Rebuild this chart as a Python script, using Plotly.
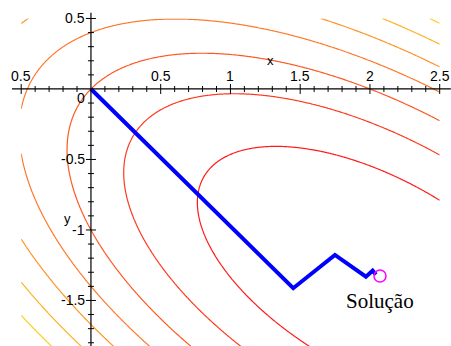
import numpy as np
import plotly.graph_objects as go

# Objective f(x, y) = a*x^2 + b*x*y + c*y^2 + d*x + e*y
f_coeffs = [1.0, 1.6, 2.0, -2.0, 2.0]
grid_x = [-0.5, 2.5]
grid_y = [-2.0, 0.5]
level_start, level_end, level_step = -2.24, 4.48, 1.12

# steepest-descent iterates starting at the origin
path_x = [0.0, 1.450, 1.749, 1.971, 2.019, 2.043]
path_y = [0.0, -1.413, -1.177, -1.331, -1.289, -1.317]
solution = [2.072, -1.326]

# axes drawn through the origin
x_range = [-0.652, 2.581]
y_range = [-1.823, 0.631]
x_axis_span = [-0.566, 2.58]
y_axis_span = [-1.823, 0.54]
x_tick_vals = [-0.5, 0.5, 1.0, 1.5, 2.0, 2.5]
x_tick_text = ["0.5", "0.5", "1", "1.5", "2", "2.5"]
y_tick_vals = [0.5, -0.5, -1.0, -1.5]
y_tick_text = ["0.5", "-0.5", "-1", "-1.5"]
x_minor = [-0.5, 2.5]
y_minor = [-1.8, 0.5]

W, H = 451, 346
sx = W / (x_range[1] - x_range[0])
sy = H / (y_range[1] - y_range[0])

a, b, c, d, e = f_coeffs
gx = np.linspace(grid_x[0], grid_x[1], 301)
gy = np.linspace(grid_y[0], grid_y[1], 251)
X, Y = np.meshgrid(gx, gy)
Z = a * X**2 + b * X * Y + c * Y**2 + d * X + e * Y

fig = go.Figure()

fig.add_trace(go.Contour(
    x=gx, y=gy, z=Z,
    contours=dict(start=level_start, end=level_end, size=level_step, coloring="lines"),
    colorscale=[[0, "rgb(255,25,25)"], [0.5, "rgb(255,120,40)"], [1, "rgb(255,205,30)"]],
    zmin=level_start, zmax=level_end,
    line=dict(width=1.2, smoothing=0.6),
    showscale=False, hoverinfo="skip",
))

# axis lines
fig.add_shape(type="line", x0=x_axis_span[0], x1=x_axis_span[1], y0=0, y1=0,
              line=dict(color="black", width=1.2))
fig.add_shape(type="line", x0=0, x1=0, y0=y_axis_span[0], y1=y_axis_span[1],
              line=dict(color="black", width=1.2))

# tick marks crossing the axes
def is_major(v):
    return abs(v * 2 - round(v * 2)) < 1e-9

tx, ty = [], []
for v in np.round(np.arange(round(x_minor[0] * 10), round(x_minor[1] * 10) + 1) / 10, 1):
    if v == 0:
        continue
    h = (5 if is_major(v) else 3) / sy
    tx += [v, v, None]
    ty += [-h, h, None]
for v in np.round(np.arange(round(y_minor[0] * 10), round(y_minor[1] * 10) + 1) / 10, 1):
    if v == 0:
        continue
    h = (5 if is_major(v) else 3) / sx
    tx += [-h, h, None]
    ty += [v, v, None]
fig.add_trace(go.Scatter(x=tx, y=ty, mode="lines", line=dict(color="black", width=1),
                         hoverinfo="skip", showlegend=False))

# descent path and solution marker
fig.add_trace(go.Scatter(x=path_x, y=path_y, mode="lines",
                         line=dict(color="#0000ff", width=4), showlegend=False))
fig.add_trace(go.Scatter(x=[solution[0]], y=[solution[1]], mode="markers",
                         marker=dict(symbol="circle-open", size=12, color="#ff00ff",
                                     line=dict(width=1.5, color="#ff00ff")),
                         showlegend=False))

tick_font = dict(family="Liberation Sans, Arial", size=14, color="black")
ann = []
for v, t in zip(x_tick_vals, x_tick_text):
    ann.append(dict(x=v, y=0, text=t, showarrow=False, yanchor="middle", yshift=13,
                    font=tick_font))
for v, t in zip(y_tick_vals, y_tick_text):
    ann.append(dict(x=0, y=v, text=t, showarrow=False, xanchor="right", xshift=-4,
                    font=tick_font))
ann.append(dict(x=0, y=0, text="0", showarrow=False, xanchor="right", xshift=-4,
                yshift=-9, font=tick_font))
ann.append(dict(x=1.29, y=0.2, text="x", showarrow=False, font=dict(tick_font, size=13)))
ann.append(dict(x=-0.165, y=-0.92, text="y", showarrow=False, font=dict(tick_font, size=13)))
ann.append(dict(x=solution[0], y=solution[1], text="Solução", showarrow=False,
                yshift=-25, font=dict(family="Liberation Serif, Times New Roman",
                                      size=21, color="black")))

fig.update_layout(
    width=W, height=H, margin=dict(l=0, r=0, t=0, b=0),
    paper_bgcolor="white", plot_bgcolor="white",
    xaxis=dict(range=x_range, visible=False),
    yaxis=dict(range=y_range, visible=False),
    annotations=ann, showlegend=False,
)

fig.write_html("out.html")
